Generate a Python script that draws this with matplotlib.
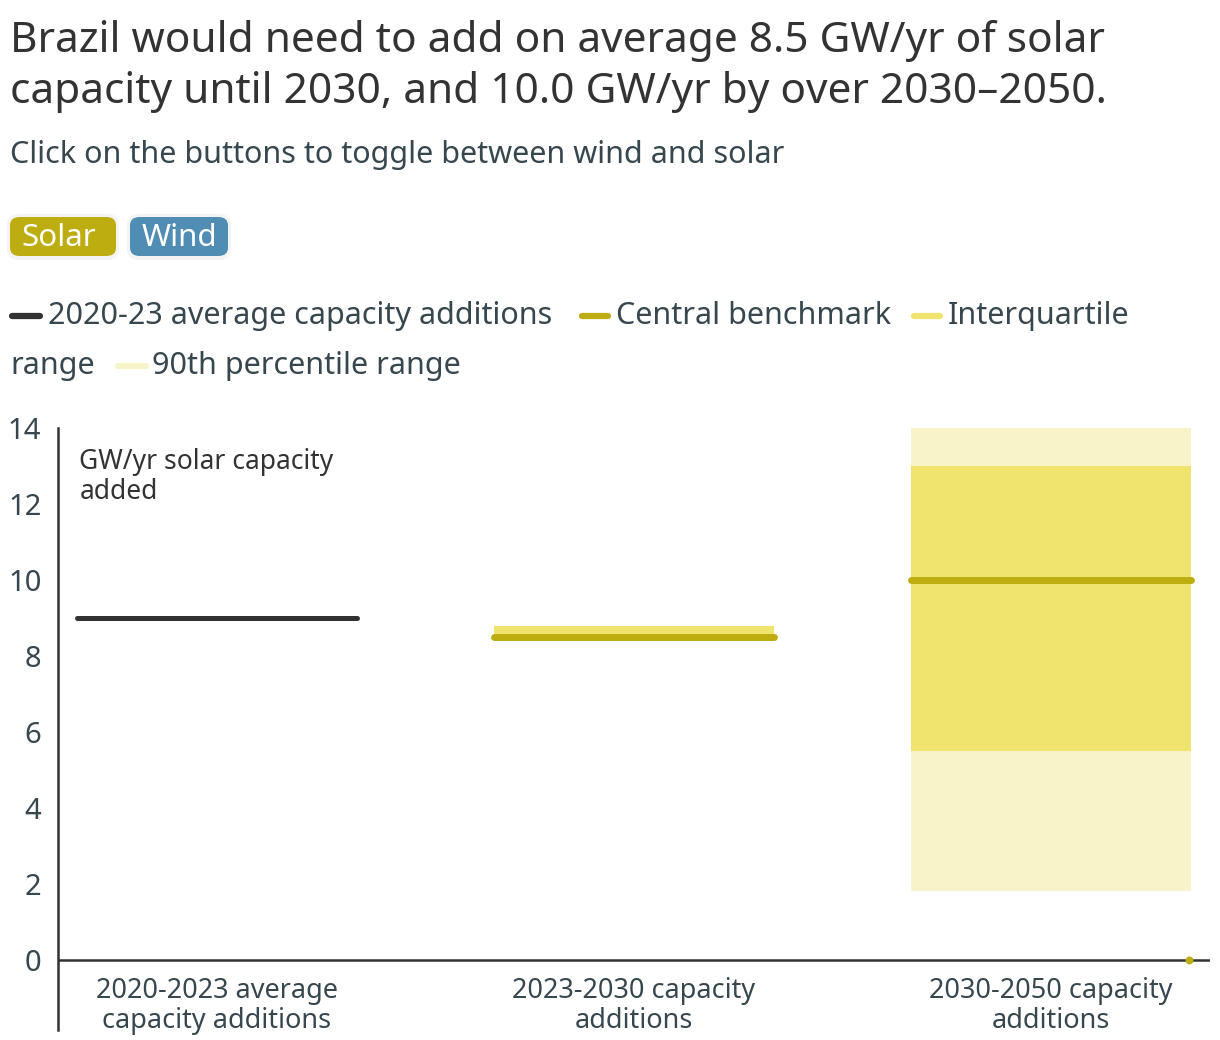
import matplotlib
matplotlib.use("Agg")
import matplotlib.pyplot as plt
from matplotlib.lines import Line2D
from matplotlib.patches import FancyBboxPatch

plt.rcParams['font.family'] = ['Noto Sans', 'DejaVu Sans']

# данные
categories = ['2020-2023 average\ncapacity additions', '2023-2030 capacity\nadditions', '2030-2050 capacity\nadditions']
recent_avg = 9.0                      # 2020-23 average capacity additions
central = [None, 8.5, 10.0]           # Central benchmark
iqr_low = [None, 8.5, 5.5]
iqr_high = [None, 8.8, 13.0]
p90_low = [None, 8.5, 1.8]
p90_high = [None, 8.8, 14.0]

TEXT = '#37474f'
DARK = '#333333'
OLIVE = '#bdad10'
IQR_C = '#f0e46f'
P90_C = '#f8f3c8'

W, H = 1220, 1040
fig = plt.figure(figsize=(W / 100, H / 100), dpi=100)


def fx(px):
    return px / W


def fy(py):
    return 1 - py / H


# заголовок
fig.text(fx(10), fy(41), 'Brazil would need to add on average 8.5 GW/yr of solar', fontsize=30.5,
         color=DARK, va='center')
fig.text(fx(10), fy(92), 'capacity until 2030, and 10.0 GW/yr by over 2030\u20132050.', fontsize=30.5,
         color=DARK, va='center')
fig.text(fx(10), fy(155), 'Click on the buttons to toggle between wind and solar', fontsize=22,
         color=TEXT, va='center')

# кнопки (с лёгкой тенью)
for (x0, x1, col, label, dx) in [(10, 116, OLIVE, 'Solar', -4), (130, 228, '#4f8db5', 'Wind', 0)]:
    shadow = FancyBboxPatch((fx(x0 - 3), fy(260)), fx(x1 - x0 + 6), fy(214) - fy(260),
                            boxstyle='round,pad=0,rounding_size=0.01', fc='#eeeeee', ec='none',
                            alpha=0.6, transform=fig.transFigure)
    fig.add_artist(shadow)
    box = FancyBboxPatch((fx(x0), fy(256)), fx(x1 - x0), fy(217) - fy(256),
                         boxstyle='round,pad=0,rounding_size=0.008', fc=col, ec='none',
                         transform=fig.transFigure)
    fig.add_artist(box)
    fig.text(fx((x0 + x1) / 2 + dx), fy(238), label, fontsize=22.5, color='white',
             ha='center', va='center')

# легенда
legend_items = [
    (12, 40, 316, DARK, 48, '2020-23 average capacity additions'),
    (582, 608, 316, OLIVE, 616, 'Central benchmark'),
    (914, 940, 316, IQR_C, 948, 'Interquartile'),
    (118, 146, 366, P90_C, 152, '90th percentile range'),
]
for x0, x1, yy, col, tx, label in legend_items:
    fig.add_artist(Line2D([fx(x0), fx(x1)], [fy(yy), fy(yy)], color=col, lw=4.5,
                          solid_capstyle='round', transform=fig.transFigure))
    fig.text(fx(tx), fy(yy), label, fontsize=22, color=TEXT, va='center')
fig.text(fx(10), fy(366), 'range', fontsize=22, color=TEXT, va='center')

# график
ax = fig.add_axes([fx(58), fy(1030), fx(1210) - fx(58), fy(428) - fy(1030)])
ax.set_xlim(-0.381, 2.381)
ax.set_ylim(-1.85, 14)

half = 0.335
for i in range(len(categories)):
    if p90_low[i] is not None:
        ax.bar(i, p90_high[i] - p90_low[i], bottom=p90_low[i], width=2 * half, color=P90_C, zorder=1)
        ax.bar(i, iqr_high[i] - iqr_low[i], bottom=iqr_low[i], width=2 * half, color=IQR_C, zorder=2)
        ax.plot([i - half, i + half], [central[i], central[i]], color=OLIVE, lw=5,
                solid_capstyle='round', zorder=3)

ax.plot([0 - half, 0 + half], [recent_avg, recent_avg], color=DARK, lw=3.6,
        solid_capstyle='round', zorder=3)

# точка у нуля
ax.scatter([2.33], [0], s=22, color=OLIVE, zorder=4)

ax.axhline(0, color=DARK, lw=1.8, zorder=2)

for i, cat in enumerate(categories):
    ax.text(i, -0.45, cat, ha='center', va='top', fontsize=19.5, color=TEXT, linespacing=1.12)

ax.text(-0.33, 12.7, 'GW/yr solar capacity\nadded', fontsize=19, color=DARK, va='center',
        linespacing=1.1)

ax.set_yticks(range(0, 15, 2))
ax.tick_params(axis='y', length=0, pad=12, labelsize=21, labelcolor=TEXT)
ax.set_xticks([])
for s in ['top', 'right', 'bottom']:
    ax.spines[s].set_visible(False)
ax.spines['left'].set_color(DARK)
ax.spines['left'].set_linewidth(1.8)
ax.patch.set_visible(False)

fig.savefig('out.png', dpi=100)
